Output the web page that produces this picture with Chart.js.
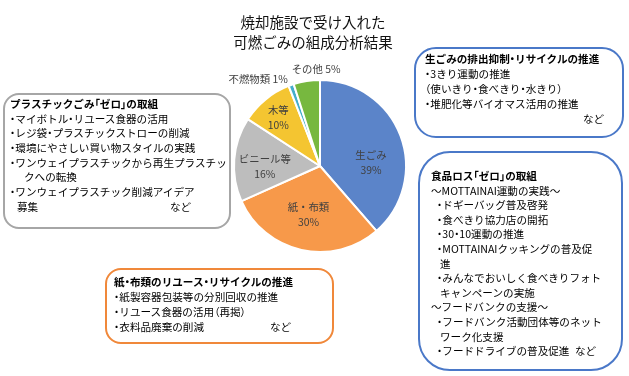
<!DOCTYPE html>
<html lang="ja">
<head>
<meta charset="utf-8">
<script src="https://cdn.jsdelivr.net/npm/chart.js@4/dist/chart.umd.min.js"></script>
<style>
  body { margin: 0; background: #fff; }
  #wrap { position: relative; width: 629px; height: 376px; overflow: hidden;
          font-family: "Noto Sans CJK JP", sans-serif; color: #000; }
  #wrap canvas { position: absolute; left: 0; top: 0; }
  .title { position: absolute; left: 213px; width: 200px; top: 12px; text-align: center;
           font-size: 14.5px; line-height: 20px; color: #111; }
  .box { position: absolute; box-sizing: border-box; background: #fff; border: 2px solid;
         font-size: 10.6px; padding: 0 0 0 6px; }
  .box div { position: relative; height: 15px; line-height: 15px; white-space: pre; }
  .box div.h { font-weight: bold; }
  .box .p { font-feature-settings: "palt"; }
  .box .nado { position: absolute; top: 0; }
</style>
</head>
<body>
<div id="wrap">
  <canvas id="grafica" width="629" height="376"></canvas>
  <div class="title">焼却施設で受け入れた<br>可燃ごみの組成分析結果</div>

  <div class="box" style="left:3px;top:93px;width:228px;height:136px;border-color:#a6a6a6;border-radius:16px;padding-top:1px;padding-left:5px;">
    <div class="h" style="height:14.7px">プラスチックごみ「ゼロ」の取組</div>
    <div style="height:14.7px">・マイボトル・リユース食器の活用</div>
    <div style="height:14.7px">・レジ袋・プラスチックストローの削減</div>
    <div style="height:14.7px">・環境にやさしい買い物スタイルの実践</div>
    <div style="height:14.7px">・ワンウェイプラスチックから再生プラスチッ</div>
    <div style="height:14.7px;padding-left:14px">クへの転換</div>
    <div style="height:14.7px">・ワンウェイプラスチック削減アイデア</div>
    <div style="height:14.7px;padding-left:7px">募集<span class="nado" style="left:160px">など</span></div>
  </div>

  <div class="box" style="left:414px;top:47px;width:210px;height:91px;border-color:#4a78c8;border-radius:22px;padding-top:2px;padding-left:9px;">
    <div class="h">生ごみの排出抑制・リサイクルの推進</div>
    <div>・3きり運動の推進</div>
    <div>（使いきり・食べきり・水きり）</div>
    <div>・堆肥化等バイオマス活用の推進</div>
    <div><span class="nado" style="left:158px">など</span></div>
  </div>

  <div class="box" style="left:418px;top:151px;width:205px;height:220px;border-color:#4a78c8;border-radius:32px;padding-top:15px;padding-left:11px;">
    <div class="h" style="height:14.6px">食品ロス「ゼロ」の取組</div>
    <div style="height:14.6px">～MOTTAINAI運動の実践～</div>
    <div style="height:14.6px;padding-left:6px">・ドギーバッグ普及啓発</div>
    <div style="height:14.6px;padding-left:6px">・食べきり協力店の開拓</div>
    <div style="height:14.6px;padding-left:6px">・30・10運動の推進</div>
    <div style="height:14.6px;padding-left:6px">・MOTTAINAIクッキングの普及促</div>
    <div style="height:14.6px;padding-left:9px">進</div>
    <div style="height:14.6px;padding-left:6px">・みんなでおいしく食べきりフォト</div>
    <div style="height:14.6px;padding-left:9px">キャンペーンの実施</div>
    <div style="height:14.6px">～フードバンクの支援～</div>
    <div style="height:14.6px;padding-left:6px">・フードバンク活動団体等のネット</div>
    <div style="height:14.6px;padding-left:9px">ワーク化支援</div>
    <div style="height:14.6px;padding-left:6px">・フードドライブの普及促進<span class="nado" style="left:144px">など</span></div>
  </div>

  <div class="box" style="left:105px;top:268px;width:229px;height:76px;border-color:#f0883a;border-radius:16px;padding-top:4px;padding-left:7px;">
    <div class="h">紙・布類のリユース・リサイクルの推進</div>
    <div>・紙製容器包装等の分別回収の推進</div>
    <div>・リユース食器の活用（再掲）</div>
    <div>・衣料品廃棄の削減<span class="nado" style="left:156px">など</span></div>
  </div>
</div>

<script>
// 組成データ (%)
var categorias = ['生ごみ', '紙・布類', 'ビニール等', '木等', '不燃物類', 'その他'];
var porcentajes = [39, 30, 16, 10, 1, 5];
var colores = ['#5b84c9', '#f7994a', '#bdbdbd', '#f4c531', '#44aecb', '#77b83f'];
// ラベルを外側に出すか
var fuera = [false, false, false, false, true, true];
// ラベル位置の微調整 [dx, dy]
var ajuste = [[1, 15], [0, -4], [-2, 4], [-8, -8], [4, 3], [5, -1]];

// 約物だけプロポーショナルにする
document.querySelectorAll('.box div').forEach(function (el) {
  el.innerHTML = el.innerHTML.replace(/([・「」（）])/g, '<span class="p">$1</span>');
});

// ラベル描画プラグイン
var etiquetas = {
  id: 'etiquetas',
  afterDatasetsDraw: function (chart) {
    var ctx = chart.ctx;
    var meta = chart.getDatasetMeta(0);
    ctx.save();
    ctx.fillStyle = '#404040';
    ctx.font = '10.4px "Noto Sans CJK JP", sans-serif';
    ctx.textBaseline = 'middle';
    meta.data.forEach(function (arc, i) {
      var mid = (arc.startAngle + arc.endAngle) / 2;
      var cx = arc.x, cy = arc.y, r = arc.outerRadius;
      var texto = categorias[i];
      var pct = porcentajes[i] + '%';
      if (fuera[i]) {
        var d = r + 10;
        var x = cx + Math.cos(mid) * d + ajuste[i][0];
        var y = cy + Math.sin(mid) * d + ajuste[i][1];
        var deg = (mid * 180 / Math.PI + 90 + 360) % 360;
        if (deg > 350 || deg < 10) {
          ctx.textAlign = 'center';
          ctx.fillText(texto + ' ' + pct, x + 6, y - 1);
        } else {
          ctx.textAlign = 'right';
          ctx.fillText(texto + ' ' + pct, x - 4, y);
        }
      } else {
        var d2 = r * 0.62;
        var x2 = cx + Math.cos(mid) * d2 + ajuste[i][0];
        var y2 = cy + Math.sin(mid) * d2 + ajuste[i][1];
        ctx.textAlign = 'center';
        ctx.fillText(texto, x2, y2 - 7);
        ctx.fillText(pct, x2, y2 + 8);
      }
    });
    ctx.restore();
  }
};

var ctx = document.getElementById('grafica').getContext('2d');
var grafica = new Chart(ctx, {
  type: 'pie',
  data: {
    labels: categorias,
    datasets: [{
      data: porcentajes,
      backgroundColor: colores,
      borderColor: '#ffffff',
      borderWidth: 2
    }]
  },
  options: {
    responsive: false,
    animation: false,
    layout: { padding: { left: 233, right: 222, top: 79, bottom: 123 } },
    plugins: {
      legend: { display: false },
      tooltip: { enabled: false }
    }
  },
  plugins: [etiquetas]
});
</script>
</body>
</html>
